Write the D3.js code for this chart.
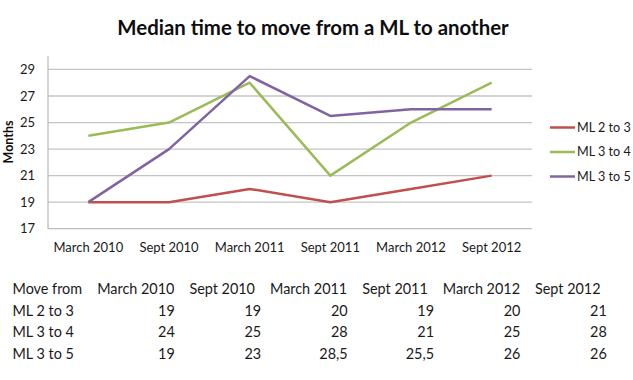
<!DOCTYPE html>
<html>
<head>
<meta charset="utf-8">
<script src="https://cdn.jsdelivr.net/npm/d3@7"></script>
<style>
  body { margin: 0; background: #fff; }
  svg { font-family: Lato, "Open Sans", sans-serif; }
</style>
</head>
<body>
<div id="chart"></div>
<script>
// data
var periods = ['March 2010', 'Sept 2010', 'March 2011', 'Sept 2011', 'March 2012', 'Sept 2012'];
var seriesNames = ['ML 2 to 3', 'ML 3 to 4', 'ML 3 to 5'];
var ml23 = [19, 19, 20, 19, 20, 21];
var ml34 = [24, 25, 28, 21, 25, 28];
var ml35 = [19, 23, 28.5, 25.5, 26, 26];
var yTicks = [17, 19, 21, 23, 25, 27, 29];
var colors = ['#c0504d', '#9bbb59', '#8064a2'];

var allSeries = [ml23, ml34, ml35];

var width = 633, height = 380;
var svg = d3.select('#chart').append('svg')
    .attr('width', width)
    .attr('height', height);

// title
svg.append('text')
    .attr('x', 313)
    .attr('y', 34.5)
    .attr('text-anchor', 'middle')
    .attr('font-weight', 'bold')
    .attr('font-size', 20.4)
    .attr('fill', '#0d0d0d')
    .text('Median time to move from a ML to another');

var x = d3.scalePoint().domain(periods).range([48, 532]).padding(0.5);
var y = d3.scaleLinear().domain([17, 30]).range([228.7, 56.2]);

// gridlines
svg.append('g').selectAll('line')
    .data(yTicks.slice(1))
    .enter().append('line')
    .attr('x1', 48).attr('x2', 532)
    .attr('y1', function(d){ return y(d); })
    .attr('y2', function(d){ return y(d); })
    .attr('stroke', '#c4c4c4')
    .attr('stroke-width', 1.3);

// axes lines
svg.append('line')
    .attr('x1', 48).attr('x2', 532)
    .attr('y1', y(17)).attr('y2', y(17))
    .attr('stroke', '#bdbdbd').attr('stroke-width', 1.3);
svg.append('line')
    .attr('x1', 48).attr('x2', 48)
    .attr('y1', y(30)).attr('y2', y(17))
    .attr('stroke', '#bdbdbd').attr('stroke-width', 1.3);

// y tick labels
svg.append('g').selectAll('text')
    .data(yTicks)
    .enter().append('text')
    .attr('x', 35)
    .attr('y', function(d){ return y(d); })
    .attr('dy', '0.35em')
    .attr('text-anchor', 'end')
    .attr('font-size', 13)
    .attr('fill', '#1a1a1a')
    .text(function(d){ return d; });

// x labels
svg.append('g').selectAll('text')
    .data(periods)
    .enter().append('text')
    .attr('x', function(d){ return x(d); })
    .attr('y', 252)
    .attr('text-anchor', 'middle')
    .attr('font-size', 13)
    .attr('fill', '#1a1a1a')
    .text(function(d){ return d; });

// y title
svg.append('text')
    .attr('transform', 'translate(13,142) rotate(-90)')
    .attr('text-anchor', 'middle')
    .attr('font-weight', 'bold')
    .attr('font-size', 12.5)
    .attr('fill', '#0d0d0d')
    .text('Months');

// lines
var line = d3.line()
    .x(function(d, i){ return x(periods[i]); })
    .y(function(d){ return y(d); });

svg.append('g').selectAll('path')
    .data(allSeries)
    .enter().append('path')
    .attr('d', line)
    .attr('fill', 'none')
    .attr('stroke', function(d, i){ return colors[i]; })
    .attr('stroke-width', 2.5)
    .attr('stroke-linejoin', 'round');

// legend
var legend = svg.append('g').selectAll('g')
    .data(seriesNames)
    .enter().append('g')
    .attr('transform', function(d, i){ return 'translate(550,' + (127.5 + i * 24.5) + ')'; });
legend.append('line')
    .attr('x1', 0).attr('x2', 25)
    .attr('stroke', function(d, i){ return colors[i]; })
    .attr('stroke-width', 2.5);
legend.append('text')
    .attr('x', 27)
    .attr('dy', '0.35em')
    .attr('font-size', 12.6)
    .attr('fill', '#1a1a1a')
    .text(function(d){ return d; });

// data table under the chart
var colRight = d3.scalePoint().domain(periods).range([174.8, 606.8]);
var rowY = [289, 311, 332.3, 354.3];
var tbl = svg.append('g').attr('font-size', 14.4).attr('fill', '#1a1a1a');

tbl.append('text')
    .attr('x', 12.5).attr('y', rowY[0]).attr('dy', '0.35em')
    .text('Move from');
tbl.selectAll('.hdr')
    .data(periods)
    .enter().append('text')
    .attr('class', 'hdr')
    .attr('x', function(d){ return colRight(d) - 39; })
    .attr('y', rowY[0]).attr('dy', '0.35em')
    .attr('text-anchor', 'middle')
    .text(function(d){ return d; });

allSeries.forEach(function(vals, r){
    tbl.append('text')
        .attr('x', 12.5).attr('y', rowY[r + 1]).attr('dy', '0.35em')
        .text(seriesNames[r]);
    tbl.selectAll('.v' + r)
        .data(vals)
        .enter().append('text')
        .attr('class', 'v' + r)
        .attr('x', function(d, i){ return colRight(periods[i]); })
        .attr('y', rowY[r + 1]).attr('dy', '0.35em')
        .attr('text-anchor', 'end')
        .text(function(d){ return String(d).replace('.', ','); });
});
</script>
</body>
</html>
